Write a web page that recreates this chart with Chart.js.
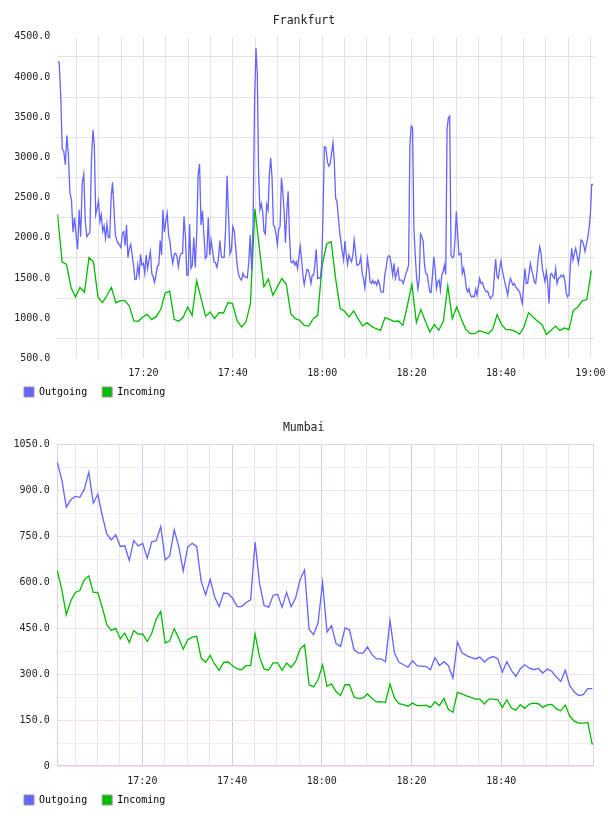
<!DOCTYPE html>
<html><head><meta charset="utf-8">
<script src="https://cdn.jsdelivr.net/npm/chart.js@4/dist/chart.umd.min.js"></script>
<style>
html,body{margin:0;padding:0;background:#fff;overflow:hidden;width:608px;height:816px;}
.wrap{position:absolute;left:0;width:608px;height:408px;}
canvas{display:block;}
</style></head><body>
<div class="wrap" style="top:0"><canvas id="c1" width="608" height="408"></canvas></div>
<div class="wrap" style="top:408px"><canvas id="c2" width="608" height="408"></canvas></div>
<script>
// ---- data (x = minutes after 17:00) ----
const chartTitles = ['Frankfurt', 'Mumbai'];
const seriesNames = ['Outgoing', 'Incoming'];

// Frankfurt outgoing (~20 s samples), read in stretches; each stretch has its [first, last] time
const fraOutSpans = [[0.82, 8.72], [9.02, 30.65], [30.95, 45.19], [45.48, 60.78], [61.22, 90.6], [91.05, 120.58]];
const fraOut1 = [4193,4181,3764,3097,3077,2910,3272,3035,2556,2472,
2068,2252,2035,1856,2347,2014,2681,2793,2202,2014,2043,2064,2952,3339];
const fraOut2 = [3160,2285,2368,2460,2202,2285,
2077,2147,1993,2172,2006,2002,2502,2689,2368,2035,
1972,1931,1910,1877,2056,2077,1901,2160,1751,1868,
1918,1785,1660,1481,1485,1660,1535,1793,1660,1681,
1556,1785,1618,1722,1826,1556,1514,1443,1535,1647,
1660,1964,1785,2347,2068,2202,2306,2035,1951,1785,
1681,1793,1806,1764,1639,1764,1806,1806,2264,2022,
1535,1535,2168,1618];
const fraOut3 = [1660,2006,1631,2035,2785,2918,2160,2335,2035,1743,
1772,2251,1785,1972,1835,1701,1689,1631,1735,1964,
1772,1751,1756,2118,2772,2285,1797,1847,2139,2077,
1868,1660,1543,1493,1472,1556,1514,1514,1501,1701,
2035,1589,2202,3702,4360];
const fraOut4 = [4035,2785,2347,2422,2327,
2077,2047,2410,2347,2785,2993,2743,2160,2139,2035,
1910,2110,2139,2743,2577,2327,1939,2327,2577,2035,
1701,1689,1714,1660,1701,1618,1760,1897,1735,1535,
1418,1514,1606,1598,1526,1431,1535,1535,1681,1856,
1493,1501,1493,1660,2285,3131,3127];
const fraOut5 = [2931,2889,2931,3056,3181,2952,2493,2452,2264,2077,
1951,1826,1722,1960,1785,1668,1785,1735,1701,1785,
1972,1826,1660,1660,1681,1764,1556,1493,1376,1535,
1743,1618,1451,1431,1472,1431,1451,1410,1472,1431,
1335,1318,1326,1535,1618,1743,1776,1764,1660,1535,
1681,1493,1556,1618,1472,1472,1472,1431,1493,1556,
1598,1660,3160,3389,3368,2118,1785,1514,1360,1472,
2047,2014,1951,1660,1556,1543,1431,1326,1318,1535,
1764,1618,1368,1451,1472,1347,1535,1576,1660,1543,
3347,3493,3514,1785,1751,1764,1972,2327,2035,1785];
const fraOut6 = [1806,1556,1618,1514,1368,1326,1368,1285,1264,1276,
1264,1360,1285,1389,1493,1431,1443,1389,1347,1326,
1335,1285,1243,1264,1285,1535,1735,1514,1493,1618,
1710,1598,1514,1431,1368,1285,1410,1493,1451,1410,
1431,1389,1368,1347,1326,1243,1181,1410,1618,1431,
1431,1556,1681,1598,1535,1451,1431,1576,1764,1889,
1806,1618,1535,1451,1576,1451,1181,1535,1556,1514,
1493,1618,1431,1493,1501,1535,1514,1535,1451,1305,
1264,1293,1660,1868,1722,1806,1868,1785,1681,1785,
1972,1960,1910,1826,1910,1993,2118,2285,2660,2668];

// Frankfurt incoming: 1 min samples
const fraInSpan = [0.8, 120.2];
const fraIncoming = [
2293,1701,1668,1381,1264,1381,1322,1752,1701,1264,1193,1281,1381,1189,1218,1218,1151,964,960,1014,1047,981,1018,1106,1314,1335,985,960,1010,1139,1035,
1464,1243,1022,1076,993,1068,1064,1193,1181,972,889,951,1181,2360,1868,1389,1485,1285,1389,1493,1418,1056,993,972,910,901,993,1035,
1660,1922,1951,1489,1118,1085,1014,1089,993,901,943,897,868,847,1006,985,960,964,910,1160,1418,943,1106,960,826,918,847,960,1401,993,1139,
993,860,806,806,843,826,806,860,1043,918,856,856,835,801,889,1068,1014,960,922,797,847,901,847,876,856,1097,1139,1214,1231,1593];

// Mumbai: 1 min samples
const mumSpan = [1.05, 120.27];
const mumOutgoing = [
991,934,845,869,880,877,903,959,858,887,
817,758,738,755,717,719,671,736,719,727,
679,732,736,782,673,686,771,717,637,715,
727,717,603,559,610,552,521,565,563,548,
521,521,534,543,731,595,524,519,557,561,
519,567,521,548,608,640,
447,429,467,599,438,458,400,391,451,445,
380,369,369,389,364,350,350,341,475,369,
339,331,323,344,328,326,326,315,355,329,
341,328,288,405,371,361,355,350,356,340,
353,358,350,307,341,313,293,318,331,320,
315,319,304,317,310,291,277,313,263,242,
231,234,253,253];
const mumIncoming = [
638,576,494,540,567,573,608,621,567,567,
518,462,443,450,416,434,404,442,431,432,
407,434,480,505,402,409,449,418,382,413,
421,424,353,339,362,333,313,339,340,328,
318,315,328,328,431,356,317,314,337,337,
313,337,323,341,382,396,
266,259,282,331,261,269,244,231,266,266,
226,221,223,236,221,210,211,208,269,223,
204,201,196,206,198,198,199,192,210,198,
221,185,176,241,236,230,225,219,219,203,
219,219,217,192,217,190,183,201,189,203,
206,204,192,200,202,187,181,200,163,147,
141,141,143,71];

// axis settings (values): x [min, max] ; y [min, max, step, labelled step]
const fraX = [0.74, 120.8], fraY = [500, 4500, 250, 500];
const mumX = [0.91, 120.5], mumY = [0, 1050, 75, 150];

// ---- helpers ----
function pts(span, vals) {
  const n = vals.length, step = (span[1] - span[0]) / (n - 1);
  return vals.map((v, i) => ({x: span[0] + i * step, y: v}));
}
function hhmm(v) {
  const t = 17 * 60 + Math.round(v);
  return Math.floor(t / 60) + ':' + String(t % 60).padStart(2, '0');
}
const isMult = (v, m) => Math.abs(v / m - Math.round(v / m)) < 1e-6;
const FONT = 'DejaVu Sans Mono';
const TXT = '#222';
Chart.defaults.font.family = FONT;

const tweak = {id: 'tweak', afterLayout(c) {
  c.titleBlock.left += 5;
  c.legend.top -= 10.3; c.legend.bottom -= 10.3;
}};
const frame = {id: 'frame', beforeDatasetsDraw(c, a, o) {
  if (!o.color) return;
  const {left, top, right, bottom} = c.chartArea, g = c.ctx;
  g.save(); g.strokeStyle = o.color; g.lineWidth = 1;
  g.strokeRect(Math.round(left) + 0.5, Math.round(top) + 0.5, Math.round(right - left) - 1, Math.round(bottom - top) - 1);
  g.restore();
}};

function make(id, title, outData, inData, xr, yr, mumbai) {
  const majorH = mumbai ? '#f0e0f0' : 'transparent';
  const minorH = mumbai ? '#efefef' : '#e2e2e2';
  const majorV = mumbai ? '#dcc6dc' : '#e2e2e2';
  const minorV = mumbai ? '#e6e6e6' : '#e2e2e2';
  return new Chart(document.getElementById(id), {
    type: 'line',
    data: {datasets: [
      {label: seriesNames[0], data: outData, borderColor: '#6464ff', backgroundColor: '#6464ff', borderWidth: 1.3, pointRadius: 0, tension: 0, fill: false},
      {label: seriesNames[1], data: inData, borderColor: '#00bb00', backgroundColor: '#00bb00', borderWidth: 1.3, pointRadius: 0, tension: 0, fill: false}
    ]},
    options: {
      responsive: false, animation: false, devicePixelRatio: 1,
      layout: {padding: {left: 9, right: mumbai ? 14.7 : 14, top: 0, bottom: -9.3}},
      plugins: {
        title: {display: true, text: title, color: TXT, font: {family: FONT, size: 11.5, weight: 'normal'}, padding: {top: mumbai ? 13.5 : 14, bottom: 9}},
        legend: {position: 'bottom', align: 'start', labels: {boxWidth: 10, boxHeight: 10, padding: 15, color: TXT, font: {family: FONT, size: 10},
          generateLabels: c => c.data.datasets.map((d, i) => ({text: d.label, fillStyle: d.borderColor, strokeStyle: '#9a9a9a', lineWidth: 1, hidden: false, datasetIndex: i}))}},
        tooltip: {enabled: false},
        frame: {color: mumbai ? '#e6cfe6' : null}
      },
      scales: {
        x: {type: 'linear', min: xr[0], max: xr[1],
          border: {display: false},
          grid: {drawTicks: false, lineWidth: 1, color: c => {
            const v = c.tick ? c.tick.value : 0;
            if (!isMult(v, 5)) return 'transparent';
            if (mumbai && Math.round(v) === 120) return 'transparent';
            return isMult(v, 20) ? majorV : minorV; }},
          ticks: {stepSize: 5, includeBounds: false, autoSkip: false, maxRotation: 0, minRotation: 0, padding: 9, color: TXT, font: {family: FONT, size: 10},
            callback: v => (isMult(v, 20) && !(mumbai && Math.round(v) === 120)) ? hhmm(v) : ''},
          afterFit: s => { s.height = 24; s.paddingLeft = 0; s.paddingRight = 0; }
        },
        y: {min: yr[0], max: yr[1],
          border: {display: false},
          grid: {drawTicks: false, lineWidth: 1, color: c => {
            const v = c.tick ? c.tick.value : 0;
            return isMult(v, yr[3]) ? majorH : minorH; }},
          ticks: {stepSize: yr[2], autoSkip: false, padding: 7, color: TXT, font: {family: FONT, size: 10},
            callback: v => isMult(v, yr[3]) ? (v === 0 ? '0' : v.toFixed(1)) : ''},
          afterFit: s => { s.width = mumbai ? 47.7 : 48.3; s.paddingTop = 0; s.paddingBottom = 0; }
        }
      }
    },
    plugins: [tweak, frame]
  });
}

const fraOutParts = [fraOut1, fraOut2, fraOut3, fraOut4, fraOut5, fraOut6];
const fraOutPts = fraOutParts.flatMap((vals, k) => pts(fraOutSpans[k], vals));

make('c1', chartTitles[0], fraOutPts, pts(fraInSpan, fraIncoming), fraX, fraY, false);
make('c2', chartTitles[1], pts(mumSpan, mumOutgoing), pts(mumSpan, mumIncoming), mumX, mumY, true);
</script></body></html>
